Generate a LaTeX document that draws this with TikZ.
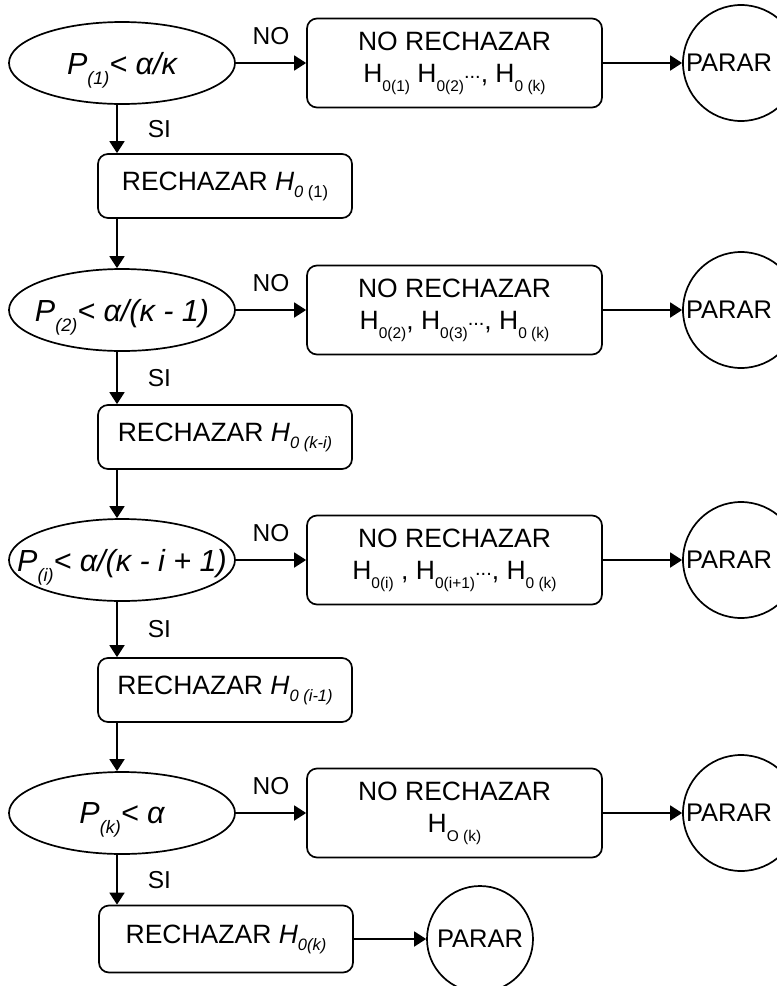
\documentclass[tikz,border=0pt]{standalone}
\usepackage{fontspec}
\setmainfont{Liberation Sans}
\usetikzlibrary{shapes.geometric,arrows.meta}
\tikzset{
  >={Triangle[length=12pt,width=15pt]},
  every path/.style={line width=1.7pt},
  cond/.style={ellipse,draw,minimum width=226pt,minimum height=82pt,text depth=0pt,
    inner xsep=-30pt,inner ysep=0pt,font=\fontsize{30.5}{34}\selectfont\itshape},
  nobox/.style={draw,rounded corners=10pt,minimum width=295pt,minimum height=89pt,
    align=center,font=\fontsize{26.5}{32}\selectfont},
  rbox/.style={draw,rounded corners=10pt,minimum width=254pt,minimum height=64pt,
    font=\fontsize{26.5}{30}\selectfont},
  stopc/.style={circle,draw,minimum size=116pt,inner sep=0pt},
  lbl/.style={inner sep=0pt,font=\fontsize{24.5}{28}\selectfont}
}
\newcommand{\psub}[1]{\raisebox{-10pt}{\fontsize{18}{18}\selectfont #1}}
\newcommand{\hsub}[1]{\raisebox{-9pt}{\fontsize{15.5}{15.5}\selectfont #1}}
\newcommand{\rsub}[1]{\raisebox{-7pt}{\fontsize{16.5}{16.5}\selectfont #1}}
\newcommand{\ddd}{\raisebox{4pt}{\fontsize{20}{20}\selectfont...}}
\newcommand{\parar}{\fontsize{25.5}{30}\selectfont PARAR}

\begin{document}
\begin{tikzpicture}[x=1pt,y=-1pt]
  \useasboundingbox (0,0) rectangle (777,986);
  \coordinate (spine) at (117,0);

  \node[cond] (e1) at (122,63) {P\psub{(1)}< α/κ};
  \node[nobox] (n1) at (454.5,63) {NO RECHAZAR\\H\hsub{0(1)} H\hsub{0(2)}\ddd, H\hsub{0 (k)}};
  \node[stopc,label={[xshift=-12pt]center:\parar}] (s1) at (741,63) {};
  \node[rbox] (r1) at (225,186) {RECHAZAR \textit{H}\rsub{\textit{0} (1)}};

  \node[cond] (e2) at (122,310) {P\psub{(2)}< α/(κ - 1)};
  \node[nobox] (n2) at (454.5,310) {NO RECHAZAR\\H\hsub{0(2)}, H\hsub{0(3)}\ddd, H\hsub{0 (k)}};
  \node[stopc,label={[xshift=-12pt]center:\parar}] (s2) at (741,310) {};
  \node[rbox] (r2) at (225,437) {RECHAZAR \textit{H}\rsub{\textit{0 (k-i)}}};

  \node[cond] (e3) at (122,560) {P\psub{(i)}< α/(κ - i + 1)};
  \node[nobox] (n3) at (454.5,560) {NO RECHAZAR\\H\hsub{0(i)} , H\hsub{0(i+1)}\ddd, H\hsub{0 (k)}};
  \node[stopc,label={[xshift=-12pt]center:\parar}] (s3) at (741,560) {};
  \node[rbox] (r3) at (225,690) {RECHAZAR \textit{H}\rsub{\textit{0 (i-1)}}};

  \node[cond] (e4) at (122,813) {P\psub{(k)}< α};
  \node[nobox] (n4) at (454.5,813) {NO RECHAZAR\\H\hsub{O (k)}};
  \node[stopc,label={[xshift=-12pt]center:\parar}] (s4) at (741,813) {};
  \node[rbox,minimum height=67pt] (r4) at (226,939) {RECHAZAR \textit{H}\rsub{\textit{0(k)}}};
  \node[stopc,minimum size=106pt,font=\fontsize{25.5}{30}\selectfont] (s5) at (480,939) {PARAR};

  \foreach \i in {1,...,4}{
    \draw[->] (e\i) -- node[lbl,yshift=27pt]{NO} (n\i);
    \draw[->] (n\i) -- (s\i);
    \draw[->] (e\i.south -| spine) -- node[lbl,right=30pt]{SI} (r\i.north -| spine);
  }
  \draw[->] (r1.south -| spine) -- (e2.north -| spine);
  \draw[->] (r2.south -| spine) -- (e3.north -| spine);
  \draw[->] (r3.south -| spine) -- (e4.north -| spine);
  \draw[->] (r4) -- (s5);
\end{tikzpicture}
\end{document}
